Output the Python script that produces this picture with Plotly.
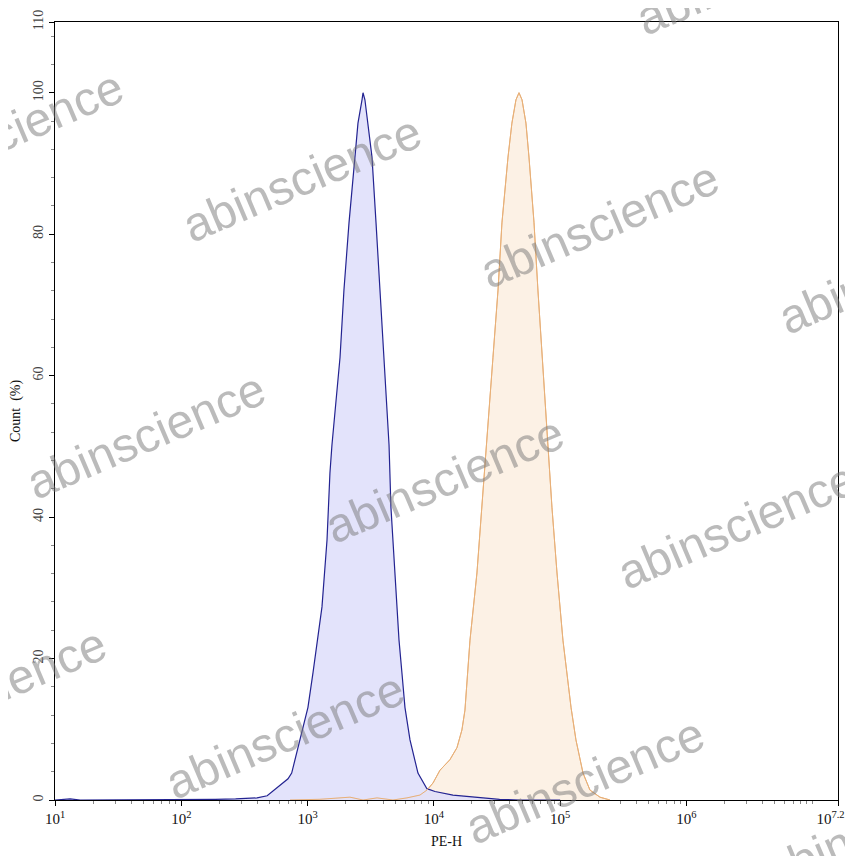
import plotly.graph_objects as go

# ---- data (x as log10 of PE-H, y as Count %) ----
blue_log10 = [1.0, 1.055, 1.12, 1.2, 2.0, 2.11, 2.27, 2.43, 2.54, 2.60, 2.68, 2.76, 2.845,
              2.874, 2.94, 3.003, 3.043, 3.114, 3.154, 3.177, 3.193, 3.257, 3.288, 3.328,
              3.375, 3.399, 3.431, 3.439, 3.454, 3.478, 3.51, 3.542, 3.573, 3.605, 3.645,
              3.66, 3.692, 3.724, 3.747, 3.771, 3.811, 3.874, 3.945, 4.009, 4.151, 4.365,
              4.52, 4.68, 5.0]
blue_count = [0, 0.1, 0.15, 0, 0, 0.1, 0.1, 0.15, 0.2, 0.3, 0.6, 1.8, 3.0,
              3.8, 8.5, 13.1, 18.0, 27.3, 36.8, 46.2, 50.2, 62.6, 72.1, 81.6,
              90.9, 95.7, 99.0, 100, 99.0, 95.7, 90.9, 81.6, 72.1, 62.6, 50.2,
              41.4, 32.1, 22.6, 18.0, 13.1, 8.5, 3.8, 1.6, 1.2, 0.7, 0.3,
              0.1, 0, 0]

orange_log10 = [2.861, 3.098, 3.336, 3.439, 3.55, 3.676, 3.787, 3.89, 3.945, 3.993, 4.048,
                4.127, 4.183, 4.222, 4.246, 4.266, 4.286, 4.341, 4.381, 4.42, 4.468, 4.508,
                4.539, 4.587, 4.618, 4.65, 4.674, 4.698, 4.729, 4.753, 4.793, 4.824, 4.856,
                4.903, 4.935, 4.975, 5.022, 5.086, 5.125, 5.181, 5.236, 5.315, 5.394]
orange_count = [0, 0.1, 0.4, 0, 0.3, 0, 0.3, 0.7, 1.4, 2.4, 4.2,
                5.7, 7.4, 9.9, 12.7, 17.0, 22.6, 32.1, 41.4, 50.2, 62.6, 72.1,
                81.6, 90.9, 95.7, 99.0, 100, 99.0, 95.7, 90.9, 81.6, 72.1, 62.6,
                50.2, 41.4, 32.1, 22.6, 13.1, 8.5, 3.8, 1.4, 0.4, 0]

x_tick_exponents = [1, 2, 3, 4, 5, 6, 7.2]
x_tick_labels = ["10<sup>1</sup>", "10<sup>2</sup>", "10<sup>3</sup>", "10<sup>4</sup>",
                 "10<sup>5</sup>", "10<sup>6</sup>",
                 "10<sup>7.2</sup>\u00a0\u00a0\u00a0\u00a0"]
y_tick_values = [0, 20, 40, 60, 80, 100, 110]

watermark_text = "abinscience"
# watermark centres in window pixels
watermark_px = [(756, -28), (4, 133), (302, 178), (600, 225), (898, 270),
                (146, 435), (445, 480), (737, 525),
                (-13, 690), (285, 735), (585, 780), (883, 825)]

# ---- figure ----
# the page places the figure 8 px in from the window's top-left corner
OFF = 8
W, H = 853, 856
PLOT_L, PLOT_R, PLOT_T, PLOT_B = 55, 838, 22, 800   # window pixels of the plot box
ML, MT = PLOT_L - OFF, PLOT_T - OFF
MR, MB = W - (PLOT_R - OFF), H - (PLOT_B - OFF)
PW, PH = PLOT_R - PLOT_L, PLOT_B - PLOT_T

blue_x = [10 ** v for v in blue_log10]
orange_x = [10 ** v for v in orange_log10]

fig = go.Figure()
fig.add_trace(go.Scatter(x=orange_x, y=orange_count, mode="lines", fill="tozeroy",
                         line=dict(color="rgb(232,176,120)", width=1),
                         fillcolor="rgba(252,238,225,0.85)", showlegend=False))
fig.add_trace(go.Scatter(x=blue_x, y=blue_count, mode="lines", fill="tozeroy",
                         line=dict(color="rgb(35,35,145)", width=1.2),
                         fillcolor="rgba(222,222,250,0.85)", showlegend=False))
fig.add_trace(go.Scatter(x=orange_x, y=orange_count, mode="lines",
                         line=dict(color="rgb(232,176,120)", width=1),
                         showlegend=False, hoverinfo="skip"))

minor_x = []
for n in range(1, 7):
    for k in range(2, 10):
        minor_x.append(k * 10 ** n)
minor_x.append(10 ** 7)

for (px, py) in watermark_px:
    fig.add_annotation(text=watermark_text, xref="paper", yref="paper",
                       x=(px - PLOT_L) / PW, y=(PLOT_B - py) / PH,
                       xanchor="center", yanchor="middle", showarrow=False,
                       textangle=-23,
                       font=dict(family="Liberation Sans, Arial", size=48,
                                 color="rgba(120,120,120,0.5)"))

fig.update_layout(
    width=W, height=H,
    margin=dict(l=ML, r=MR, t=MT, b=MB, autoexpand=False),
    paper_bgcolor="white", plot_bgcolor="white",
    font=dict(family="Liberation Serif, Times New Roman", color="#222"),
    xaxis=dict(type="log", range=[1, 7.2], automargin=False,
               tickmode="array", tickvals=[10 ** e for e in x_tick_exponents],
               ticktext=x_tick_labels, tickfont=dict(size=15, color="#111"),
               ticks="outside", ticklen=5, tickcolor="black",
               showline=True, linecolor="black", linewidth=1, mirror=True,
               showgrid=False, zeroline=False,
               minor=dict(tickmode="array", tickvals=minor_x, ticks="outside",
                          ticklen=3, tickcolor="#888", showgrid=False),
               title=dict(text="PE-H", font=dict(size=14, color="#111"), standoff=10)),
    yaxis=dict(range=[0, 110], tickmode="array", tickvals=y_tick_values, automargin=False,
               tickangle=-90, tickfont=dict(size=14, color="#444"),
               ticks="outside", ticklen=5, tickcolor="black",
               showline=True, linecolor="black", linewidth=1, mirror=True,
               showgrid=False, zeroline=False,
               minor=dict(dtick=4, tick0=0, ticks="outside", ticklen=3,
                          tickcolor="#888", showgrid=False),
               title=dict(text="Count  (%)", font=dict(size=14, color="#111"), standoff=8)),
)

fig.write_html("out.html")
